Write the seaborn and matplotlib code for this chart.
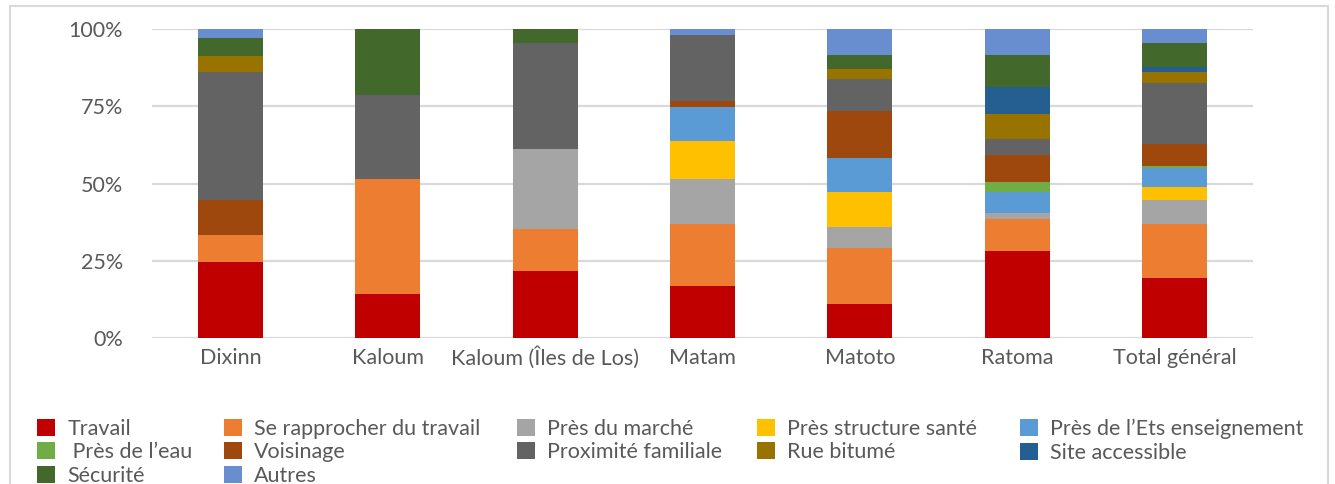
import numpy as np
import pandas as pd
import matplotlib
matplotlib.use('Agg')
import matplotlib.pyplot as plt
from matplotlib.patches import Patch, Rectangle
from matplotlib.ticker import FuncFormatter
import seaborn as sns

# Data (share in % for each commune)
categories = ['Dixinn', 'Kaloum', 'Kaloum (Îles de Los)', 'Matam', 'Matoto', 'Ratoma', 'Total général']

travail = [24.5, 14.0, 21.8, 16.7, 10.8, 27.9, 19.2]
rapprocher = [8.6, 37.2, 13.3, 19.9, 18.1, 10.3, 17.5]
marche = [0, 0, 25.9, 14.5, 6.8, 1.9, 7.8]
sante = [0, 0, 0, 12.3, 11.3, 0, 4.2]
enseignement = [0, 0, 0, 11.0, 11.0, 6.8, 6.1]
eau = [0, 0, 0, 0, 0, 3.2, 0.6]
voisinage = [11.3, 0, 0, 1.9, 14.9, 8.7, 7.1]
famille = [41.4, 26.8, 34.3, 21.3, 10.3, 5.2, 19.7]
bitume = [5.2, 0, 0, 0, 3.2, 7.8, 3.6]
accessible = [0, 0, 0, 0, 0, 8.7, 1.6]
securite = [5.8, 21.3, 4.5, 0, 4.5, 10.3, 7.8]
autres = [2.9, 0, 0, 1.9, 8.4, 8.4, 4.5]

series_names = ['Travail', 'Se rapprocher du travail', 'Près du marché', 'Près structure santé',
                'Près de l’Ets enseignement', ' Près de l’eau', 'Voisinage', 'Proximité familiale',
                'Rue bitumé', 'Site accessible', 'Sécurité', 'Autres']
series_values = [travail, rapprocher, marche, sante, enseignement, eau, voisinage, famille,
                 bitume, accessible, securite, autres]
colors = ['#C00000', '#ED7D31', '#A5A5A5', '#FFC000', '#5B9BD5', '#70AD47', '#9E480E',
          '#636363', '#997300', '#255E91', '#43682B', '#698ED0']

df = pd.DataFrame(dict(zip(series_names, series_values)), index=categories)
# 100% stacked: normalise every commune to 100
df = df.div(df.sum(axis=1), axis=0) * 100
cum = df.cumsum(axis=1)

sns.set_theme(style='white')
plt.rcParams['font.family'] = ['Lato', 'DejaVu Sans']
text_color = '#595959'
grid_color = '#D9D9D9'
fs = 15.5

fig = plt.figure(figsize=(13.35, 4.84), dpi=100)
ax = fig.add_axes([152 / 1335, 1 - 338 / 484, (1253 - 152) / 1335, (338 - 29) / 484])

# draw cumulative totals from the top series down so each one shows as its own segment
for name, col in reversed(list(zip(series_names, colors))):
    sns.barplot(x=categories, y=cum[name].values, color=col, saturation=1, width=0.413,
                errorbar=None, linewidth=0, ax=ax)

ax.set_ylim(0, 100)
ax.set_yticks([0, 25, 50, 75, 100])
ax.yaxis.set_major_formatter(FuncFormatter(lambda v, p: f'{int(v)}%'))
ax.yaxis.grid(True, color=grid_color, linewidth=1.6)
ax.set_axisbelow(True)
for s in ax.spines.values():
    s.set_visible(False)
ax.tick_params(axis='y', length=0, pad=21, labelsize=fs, labelcolor=text_color)
ax.tick_params(axis='x', length=0, pad=19, labelsize=fs, labelcolor=text_color)
for t in ax.get_xticklabels():
    t.set_verticalalignment('baseline')
ax.set_xlabel('')
ax.set_ylabel('')

# legend: five columns placed like the reference
handles = {n: Patch(facecolor=c, edgecolor='none') for n, c in zip(series_names, colors)}
legend_cols = [
    (37, ['Travail', ' Près de l’eau', 'Sécurité']),
    (224, ['Se rapprocher du travail', 'Voisinage', 'Autres']),
    (517, ['Près du marché', 'Proximité familiale']),
    (757, ['Près structure santé', 'Rue bitumé']),
    (1020, ['Près de l’Ets enseignement', 'Site accessible']),
]
for x0, names in legend_cols:
    leg = fig.legend([handles[n] for n in names], names, loc='upper left',
                     bbox_to_anchor=(x0 / 1335, 1 - 419 / 484), frameon=False,
                     borderpad=0, borderaxespad=0, fontsize=fs, handlelength=0.84,
                     handleheight=0.84, handletextpad=0.56, labelspacing=0.16)
    for t in leg.get_texts():
        t.set_color(text_color)

# chart area border
fig.add_artist(Rectangle((10 / 1335, -0.05), (1328 - 10) / 1335, 1.05 - 6 / 484,
                         transform=fig.transFigure, fill=False, edgecolor=grid_color, linewidth=1.5))

fig.savefig('out.png', dpi=100)
